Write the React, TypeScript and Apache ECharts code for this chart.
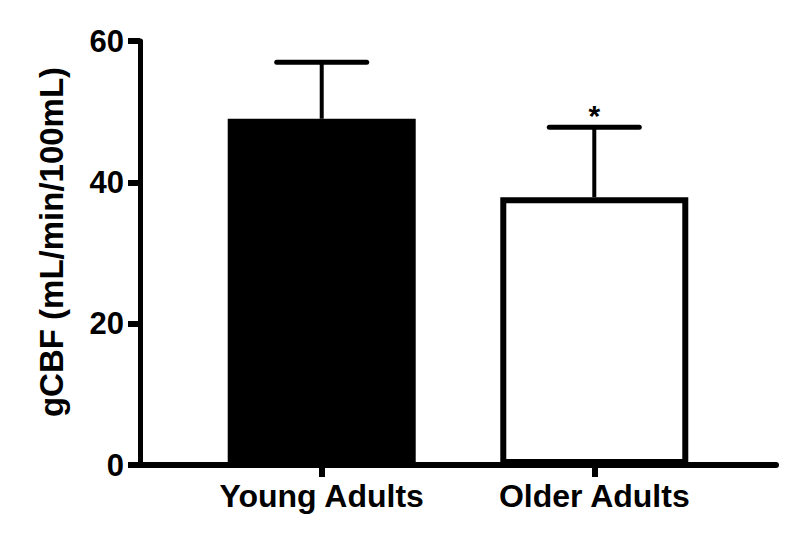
import React, { useEffect, useRef } from "react";
import * as echarts from "echarts";

const categories = ["Young Adults", "Older Adults"];
const means = [49.0, 37.9];
const upperErrors = [57.0, 47.8];
const significance = ["", "*"];
const barColors = ["#000000", "#ffffff"];
const yTicks = [0, 20, 40, 60];

const FONT = '"Liberation Sans", Arial, Helvetica, sans-serif';

export default function App() {
  const ref = useRef<HTMLDivElement>(null);
  useEffect(() => {
    document.body.style.margin = "0";
    if (!ref.current) return;
    const chart = echarts.init(ref.current, undefined, { renderer: "svg" });
    // categories placed at positions 2 and 5 on a 0..7 axis
    const pos = categories.map((_, i) => 2 + 3 * i);
    chart.setOption({
      animation: false,
      backgroundColor: "#ffffff",
      grid: { left: 140, right: 24, top: 41, bottom: 76, containLabel: false },
      xAxis: {
        type: "value",
        min: 0,
        max: 7,
        splitLine: { show: false },
        axisLine: { show: true, lineStyle: { color: "#000", width: 6 } },
        axisTick: {
          show: true,
          customValues: pos,
          length: 12,
          lineStyle: { color: "#000", width: 6 },
        },
        axisLabel: {
          customValues: pos,
          formatter: (v: number) => categories[pos.indexOf(v)] ?? "",
          color: "#000",
          fontFamily: FONT,
          fontWeight: "bold",
          fontSize: 32,
          margin: 15,
        },
      },
      yAxis: {
        type: "value",
        min: yTicks[0],
        max: yTicks[yTicks.length - 1],
        interval: 20,
        splitLine: { show: false },
        axisLine: { show: true, lineStyle: { color: "#000", width: 5 } },
        axisTick: { show: true, length: 12, lineStyle: { color: "#000", width: 6 } },
        axisLabel: {
          color: "#000",
          fontFamily: FONT,
          fontWeight: "bold",
          fontSize: 31,
          margin: 16,
        },
        name: "gCBF (mL/min/100mL)",
        nameLocation: "middle",
        nameRotate: 90,
        nameGap: 72,
        nameTextStyle: {
          color: "#000",
          fontFamily: FONT,
          fontWeight: "bold",
          fontSize: 33,
          padding: [0, 0, 0, 22],
        },
      },
      series: [
        {
          type: "bar",
          barWidth: 188,
          data: means.map((m, i) => ({
            value: [pos[i], m],
            itemStyle: { color: barColors[i], borderColor: "#000", borderWidth: 6 },
          })),
        },
        {
          type: "custom",
          data: means.map((m, i) => [pos[i], m, upperErrors[i]]),
          renderItem: (params: any, api: any) => {
            const x = api.value(0);
            const top = api.coord([x, api.value(1)]);
            const hi = api.coord([x, api.value(2)]);
            const children: any[] = [
              {
                type: "line",
                shape: { x1: top[0], y1: top[1], x2: hi[0], y2: hi[1] },
                style: { stroke: "#000", lineWidth: 4 },
              },
              {
                type: "line",
                shape: { x1: hi[0] - 45, y1: hi[1], x2: hi[0] + 45, y2: hi[1] },
                style: { stroke: "#000", lineWidth: 5, lineCap: "round" },
              },
            ];
            const mark = significance[params.dataIndex];
            if (mark) {
              children.push({
                type: "text",
                x: hi[0],
                y: hi[1] - 12,
                style: {
                  text: mark,
                  fill: "#000",
                  font: `bold 30px ${FONT}`,
                  align: "center",
                  verticalAlign: "middle",
                },
              });
            }
            return { type: "group", children };
          },
        },
      ],
    });
    return () => chart.dispose();
  }, []);
  return <div ref={ref} style={{ width: 800, height: 541 }} />;
}
